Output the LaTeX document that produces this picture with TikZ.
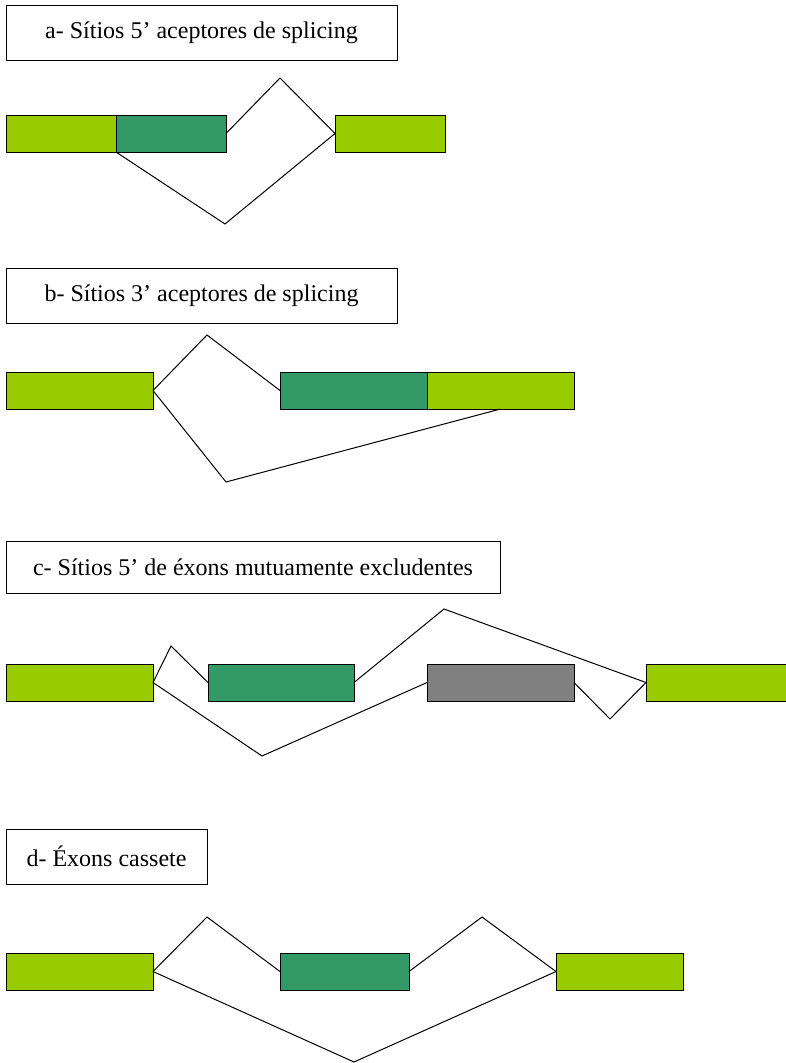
\documentclass[tikz,border=0pt]{standalone}
\usepackage{fontspec}
\setmainfont{Liberation Serif}
\definecolor{lightex}{HTML}{99CC00}
\definecolor{darkex}{HTML}{339966}
\definecolor{grayex}{HTML}{808080}
\begin{document}
\begin{tikzpicture}[x=1pt,y=-1pt,
  exon/.style={draw=black,line width=1pt,inner sep=0pt,outer sep=0pt,anchor=north west,minimum height=37pt},
  lightbox/.style={exon,fill=lightex},
  darkbox/.style={exon,fill=darkex},
  graybox/.style={exon,fill=grayex},
  titlebox/.style={draw=black,line width=1pt,fill=white,inner sep=0pt,outer sep=0pt,anchor=north west,align=center,font=\fontsize{24}{28}\selectfont},
  splice/.style={draw=black,line width=1pt,line join=miter}]
\clip (0,0) rectangle (786,1063);
\fill[white] (0,0) rectangle (786,1063);

% ---------- panel a ----------
\node[titlebox,minimum width=391pt,minimum height=55pt] (ta) at (6,5) {a- Sítios 5’ aceptores de splicing};
\node[lightbox,minimum width=110pt] (a1) at (6,115) {};
\node[darkbox,minimum width=110pt] (a2) at (116,115) {};
\node[lightbox,minimum width=110pt] (a3) at (335,115) {};
\coordinate (ap) at (280,78);
\coordinate (av) at (225,224);
\draw[splice] (a2.east) -- (ap) -- (a3.west);
\draw[splice] (a1.south east) -- (av) -- (a3.west);

% ---------- panel b ----------
\node[titlebox,minimum width=391pt,minimum height=55pt] (tb) at (6,268) {b- Sítios 3’ aceptores de splicing};
\node[lightbox,minimum width=147pt] (b1) at (6,372) {};
\node[darkbox,minimum width=147pt] (b2) at (280,372) {};
\node[lightbox,minimum width=147pt] (b3) at (427,372) {};
\coordinate (bp) at (207,335);
\coordinate (bv) at (226,482);
\draw[splice] (b1.east) -- (bp) -- (b2.west);
\draw[splice] (b1.east) -- (bv) -- (b3.south);

% ---------- panel c ----------
\node[titlebox,minimum width=494pt,minimum height=52pt] (tc) at (6,541) {c- Sítios 5’ de éxons mutuamente excludentes};
\node[lightbox,minimum width=147pt] (c1) at (6,664) {};
\node[darkbox,minimum width=146pt] (c2) at (208,664) {};
\node[graybox,minimum width=147pt] (c3) at (427,664) {};
\node[lightbox,minimum width=160pt] (c4) at (646,664) {};
\coordinate (cp1) at (171,646);
\coordinate (cp2) at (444,609);
\coordinate (cv1) at (262,756);
\coordinate (cv2) at (610,719);
\draw[splice] (c1.east) -- (cp1) -- (c2.west);
\draw[splice] (c2.east) -- (cp2) -- (c4.west);
\draw[splice] (c1.east) -- (cv1) -- (c3.west);
\draw[splice] (c3.east) -- (cv2) -- (c4.west);

% ---------- panel d ----------
\node[titlebox,minimum width=201pt,minimum height=55pt] (td) at (6,829) {d- Éxons cassete};
\node[lightbox,minimum width=147pt] (d1) at (6,953) {};
\node[darkbox,minimum width=129pt] (d2) at (280,953) {};
\node[lightbox,minimum width=127pt] (d3) at (556,953) {};
\coordinate (dp1) at (207,917);
\coordinate (dp2) at (482,917);
\coordinate (dv) at (354,1062);
\draw[splice] (d1.east) -- (dp1) -- (d2.west);
\draw[splice] (d2.east) -- (dp2) -- (d3.west);
\draw[splice] (d1.east) -- (dv) -- (d3.west);
\end{tikzpicture}
\end{document}
